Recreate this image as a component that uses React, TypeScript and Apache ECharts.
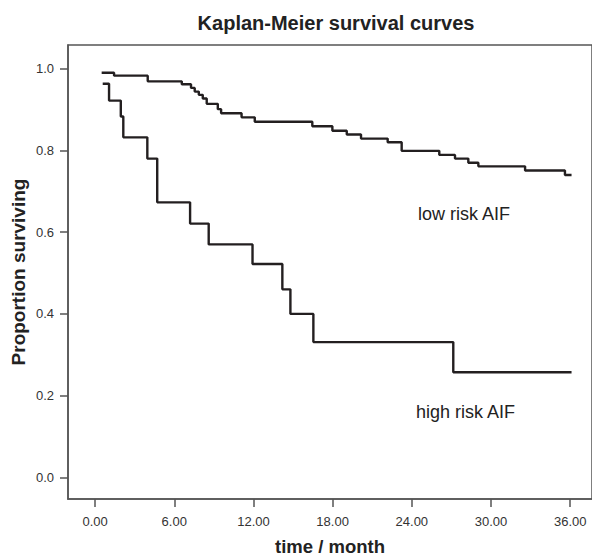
import React, { useEffect, useRef } from "react";
import * as echarts from "echarts";

// Kaplan-Meier step data: [time (months), proportion surviving after event]
const lowRiskTimes = [0.5, 1.44, 3.99, 6.57, 7.27, 7.55, 7.86, 8.16, 8.46, 9.3, 9.55, 11.1, 12.1, 16.46, 17.98, 19.07, 20.15, 22.17, 23.23, 26.08, 27.27, 28.28, 29.04, 32.58, 35.6, 36.1];
const lowRiskSurv = [0.99, 0.983, 0.969, 0.962, 0.953, 0.944, 0.936, 0.927, 0.914, 0.901, 0.891, 0.881, 0.87, 0.859, 0.848, 0.839, 0.829, 0.82, 0.799, 0.789, 0.78, 0.77, 0.761, 0.751, 0.74, 0.74];

const highRiskTimes = [0.58, 1.06, 1.95, 2.14, 3.96, 4.71, 7.2, 8.61, 11.93, 14.19, 14.8, 16.54, 27.14, 36.1];
const highRiskSurv = [0.963, 0.922, 0.883, 0.832, 0.78, 0.673, 0.621, 0.57, 0.522, 0.46, 0.4, 0.331, 0.257, 0.257];

const xTicks = [0, 6, 12, 18, 24, 30, 36];
const yTicks = [0, 0.2, 0.4, 0.6, 0.8, 1.0];

const FONT = "'Liberation Sans', Arial, Helvetica, sans-serif";

export default function App() {
  const ref = useRef<HTMLDivElement>(null);

  useEffect(() => {
    if (!ref.current) return;
    const chart = echarts.init(ref.current, undefined, { renderer: "svg" });
    const axisColor = "#555";
    const lineColor = "#231f20";
    chart.setOption({
      animation: false,
      backgroundColor: "#fff",
      textStyle: { fontFamily: FONT },
      title: {
        text: "Kaplan-Meier survival curves",
        left: 331,
        top: 8,
        textAlign: "center",
        textStyle: { fontFamily: FONT, fontSize: 20, fontWeight: "bold", color: "#222" },
      },
      grid: {
        left: 68,
        right: 0,
        top: 45,
        bottom: 59,
        outerBoundsMode: "none",
        containLabel: false,
        show: true,
        borderColor: axisColor,
        borderWidth: 1.5,
        backgroundColor: "transparent",
      },
      xAxis: {
        type: "value",
        min: -2.05,
        max: 37.65,
        name: "time / month",
        nameLocation: "middle",
        nameGap: 38,
        nameTextStyle: { fontFamily: FONT, fontSize: 18.5, fontWeight: "bold", color: "#222", verticalAlign: "top" },
        axisLine: { show: true, onZero: false, lineStyle: { color: axisColor, width: 1.5 } },
        axisTick: { show: true, length: 8, customValues: xTicks, lineStyle: { color: axisColor, width: 1.5 } },
        axisLabel: {
          customValues: xTicks,
          margin: 16,
          fontFamily: FONT,
          fontSize: 13,
          color: "#333",
          formatter: (v: number) => v.toFixed(2),
        },
        splitLine: { show: false },
      },
      yAxis: {
        type: "value",
        min: -0.053,
        max: 1.058,
        name: "Proportion surviving",
        nameLocation: "middle",
        nameGap: 40,
        nameMoveOverlap: false,
        nameRotate: 90,
        nameTextStyle: { fontFamily: FONT, fontSize: 19, fontWeight: "bold", color: "#222" },
        axisLine: { show: true, onZero: false, lineStyle: { color: axisColor, width: 1.5 } },
        axisTick: { show: true, length: 8, customValues: yTicks, lineStyle: { color: axisColor, width: 1.5 } },
        axisLabel: {
          customValues: yTicks,
          margin: 14,
          fontFamily: FONT,
          fontSize: 13,
          color: "#333",
          formatter: (v: number) => v.toFixed(1),
        },
        splitLine: { show: false },
      },
      series: [
        {
          name: "low risk AIF",
          type: "line",
          step: "end",
          symbol: "none",
          data: lowRiskTimes.map((t, i) => [t, lowRiskSurv[i]]),
          lineStyle: { color: lineColor, width: 2.4 },
          silent: true,
        },
        {
          name: "high risk AIF",
          type: "line",
          step: "end",
          symbol: "none",
          data: highRiskTimes.map((t, i) => [t, highRiskSurv[i]]),
          lineStyle: { color: lineColor, width: 2.4 },
          silent: true,
        },
      ],
      graphic: [
        {
          type: "text",
          left: 418,
          top: 205,
          style: { text: "low risk AIF", fontFamily: FONT, fontSize: 18, fill: "#222" },
        },
        {
          type: "text",
          left: 416,
          top: 403,
          style: { text: "high risk AIF", fontFamily: FONT, fontSize: 18, fill: "#222" },
        },
      ],
    });
    return () => chart.dispose();
  }, []);

  return (
    <div
      ref={ref}
      style={{ position: "fixed", left: 0, top: 0, width: 592, height: 558, background: "#fff" }}
    />
  );
}
